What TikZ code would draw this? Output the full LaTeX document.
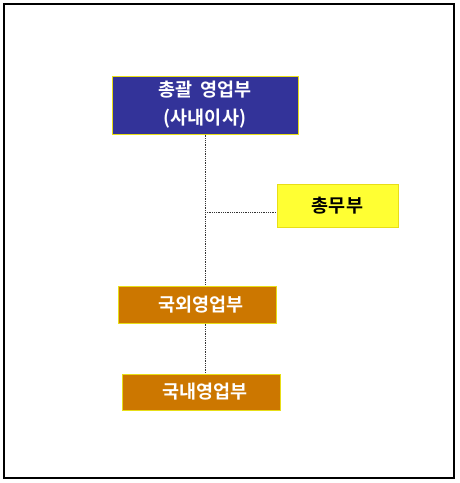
\documentclass[tikz,border=0pt]{standalone}
\usepackage{fontspec}
\setmainfont{Noto Sans CJK KR}[BoldFont={* Bold}]
\begin{document}
\begin{tikzpicture}[x=1pt,y=-1pt,
  box/.style={draw=yellow!90!black, line width=1pt, inner sep=0pt, font=\bfseries\fontsize{18.5}{28}\selectfont, align=center},
  link/.style={densely dotted, line width=0.8pt, black!80},
]
\useasboundingbox (0,0) rectangle (459,483);
\draw[line width=1.2pt] (4,4) rectangle (454,478);
\node[box, fill={rgb,255:red,51;green,51;blue,153}, text=white, minimum width=186pt, minimum height=58pt] (top) at (205,105) {총괄 \ 영업부\\(사내이사)};
\node[box, fill={rgb,255:red,255;green,255;blue,51}, text=black, minimum width=121pt, minimum height=43pt] (gen) at (337.5,205.5) {총무부};
\node[box, fill={rgb,255:red,204;green,119;blue,0}, text=white, minimum width=158pt, minimum height=37pt] (ext) at (197,304.5) {\hspace*{8pt}국외영업부};
\node[box, fill={rgb,255:red,204;green,119;blue,0}, text=white, minimum width=158pt, minimum height=36pt] (dom) at (201,392) {\hspace*{8pt}국내영업부};
\coordinate (j) at (205,212);
\draw[link] (top.south -| j) -- (ext.north -| j);
\draw[link] (ext.south -| j) -- (dom.north -| j);
\draw[link] (j) -- (gen.west |- j);
\end{tikzpicture}
\end{document}
